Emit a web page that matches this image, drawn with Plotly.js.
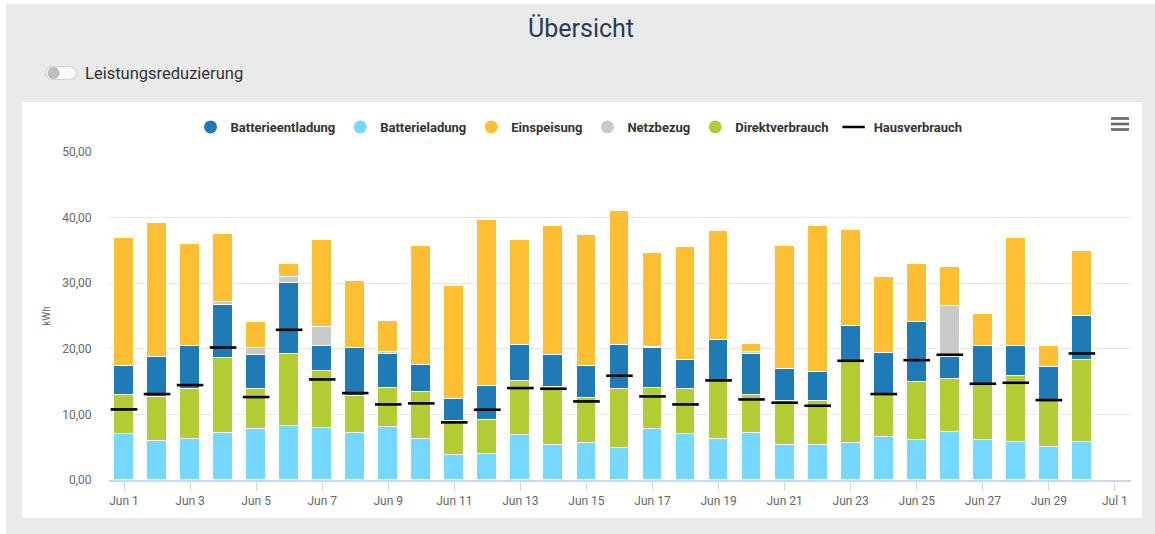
<!DOCTYPE html>
<html>
<head>
<meta charset="utf-8">
<script src="https://cdn.plot.ly/plotly-3.0.1.min.js"></script>
<style>
html,body{margin:0;padding:0;background:#fff;}
#chart{width:1155px;height:534px;}
</style>
</head>
<body>
<div id="chart"></div>
<script>
// ---- Data (kWh per day, June) ----
const days = ["2024-06-01","2024-06-02","2024-06-03","2024-06-04","2024-06-05","2024-06-06","2024-06-07","2024-06-08","2024-06-09","2024-06-10",
  "2024-06-11","2024-06-12","2024-06-13","2024-06-14","2024-06-15","2024-06-16","2024-06-17","2024-06-18","2024-06-19","2024-06-20",
  "2024-06-21","2024-06-22","2024-06-23","2024-06-24","2024-06-25","2024-06-26","2024-06-27","2024-06-28","2024-06-29","2024-06-30"];
const batterieladung = [6.95,5.89,6.19,7.11,7.77,8.22,7.92,7.11,8.02,6.19,3.81,3.96,6.80,5.38,5.58,4.87,7.77,6.95,6.29,7.11,5.28,5.28,5.58,6.50,6.04,7.26,6.04,5.74,5.08,5.84];
const direktverbrauch = [5.99,6.70,7.62,11.42,6.04,10.92,8.68,5.68,5.94,7.26,5.23,5.18,8.23,8.78,6.91,8.94,6.19,6.86,8.84,5.83,6.70,6.70,12.49,6.50,8.83,8.07,8.53,10.05,7.00,12.43];
const batterieentladung = [4.42,6.19,6.55,8.17,5.28,10.91,3.90,7.31,5.18,4.06,3.30,5.23,5.48,4.82,4.87,6.70,6.09,4.51,6.19,6.20,4.92,4.47,5.48,6.29,9.14,3.35,5.79,4.57,5.13,6.70];
const netzbezug = [0,0,0,0.45,1.06,0.97,2.75,0,0.30,0,0,0,0,0,0,0,0.30,0,0,0.30,0,0,0,0,0,7.77,0,0,0,0];
const einspeisung = [19.59,20.41,15.63,10.41,3.86,1.98,13.30,10.20,4.86,18.23,17.20,25.27,16.04,19.75,20.05,20.45,14.27,17.21,16.65,1.27,18.84,22.23,14.52,11.67,8.99,6.04,5.02,16.59,3.25,9.90];
const hausverbrauch = [10.76,13.10,14.47,20.20,12.64,22.89,15.33,13.25,11.52,11.68,8.78,10.71,14.01,13.91,11.98,15.89,12.74,11.52,15.18,12.28,11.78,11.32,18.17,13.10,18.27,19.09,14.67,14.82,12.18,19.29];

const C_ENT = "#1f7bb6", C_LAD = "#74d8ff", C_EIN = "#ffbf32", C_NETZ = "#c8cbca", C_DIR = "#b4cc34";
const FONT = "Roboto, 'Liberation Sans', Arial, sans-serif";

// ---- Layout geometry (pixels) ----
const W = 1155, H = 534, L = 109, R = 24, T = 152, B = 54;
const PW = W - L - R, PH = H - T - B;
const px = x => (x - L) / PW;
const py = y => (H - B - y) / PH;

const barW = 0.6 * 86400000;
function bar(name, y, color) {
  return {type: "bar", name: name, x: days, y: y, width: barW, showlegend: false,
    marker: {color: color, line: {color: "#ffffff", width: 1}}, hoverinfo: "x+y+name"};
}
function legendDot(name, color) {
  return {type: "scatter", mode: "markers", name: name, x: [null], y: [null],
    marker: {symbol: "circle", size: 13, color: color}};
}

const traces = [
  bar("Batterieladung", batterieladung, C_LAD),
  bar("Direktverbrauch", direktverbrauch, C_DIR),
  bar("Batterieentladung", batterieentladung, C_ENT),
  bar("Netzbezug", netzbezug, C_NETZ),
  bar("Einspeisung", einspeisung, C_EIN),
  legendDot("Batterieentladung", C_ENT),
  legendDot("Batterieladung", C_LAD),
  legendDot("Einspeisung", C_EIN),
  legendDot("Netzbezug", C_NETZ),
  legendDot("Direktverbrauch", C_DIR),
  {type: "scatter", mode: "markers", name: "Hausverbrauch", x: days, y: hausverbrauch,
    marker: {symbol: "line-ew", size: 19, color: "#000", line: {color: "#000", width: 2.6}}}
];

const shapes = [
  {type: "rect", xref: "paper", yref: "paper", x0: px(6), x1: px(1160), y0: py(4), y1: py(540),
    fillcolor: "#e9ebea", line: {width: 0}, layer: "below"},
  {type: "rect", xref: "paper", yref: "paper", x0: px(22), x1: px(1142), y0: py(102), y1: py(518),
    fillcolor: "#ffffff", line: {width: 0}, layer: "below"},
  // toggle switch
  {type: "rect", xref: "paper", yref: "paper", x0: px(52), x1: px(70), y0: py(66), y1: py(80),
    fillcolor: "#d4d4d4", line: {width: 0}, layer: "above"},
  {type: "circle", xref: "paper", yref: "paper", x0: px(45), x1: px(59), y0: py(66), y1: py(80),
    fillcolor: "#d4d4d4", line: {width: 0}, layer: "above"},
  {type: "circle", xref: "paper", yref: "paper", x0: px(63), x1: px(77), y0: py(66), y1: py(80),
    fillcolor: "#d4d4d4", line: {width: 0}, layer: "above"},
  {type: "rect", xref: "paper", yref: "paper", x0: px(52), x1: px(70), y0: py(67.2), y1: py(78.8),
    fillcolor: "#fafafa", line: {width: 0}, layer: "above"},
  {type: "circle", xref: "paper", yref: "paper", x0: px(46.2), x1: px(57.8), y0: py(67.2), y1: py(78.8),
    fillcolor: "#fafafa", line: {width: 0}, layer: "above"},
  {type: "circle", xref: "paper", yref: "paper", x0: px(64.2), x1: px(75.8), y0: py(67.2), y1: py(78.8),
    fillcolor: "#fafafa", line: {width: 0}, layer: "above"},
  {type: "circle", xref: "paper", yref: "paper", x0: px(47.5), x1: px(59.5), y0: py(67), y1: py(79),
    fillcolor: "#bdbdbd", line: {width: 0}, layer: "above"}
];
[118.5, 124, 129.5].forEach(y => shapes.push({type: "line", xref: "paper", yref: "paper",
  x0: px(1111), x1: px(1129), y0: py(y), y1: py(y), line: {color: "#666666", width: 2.6}}));

const layout = {
  width: W, height: H,
  margin: {l: L, r: R, t: T, b: B, pad: 0},
  paper_bgcolor: "#ffffff",
  plot_bgcolor: "rgba(0,0,0,0)",
  barmode: "stack",
  bargap: 0,
  separators: ",.",
  font: {family: FONT, color: "#666666"},
  title: {text: "Übersicht", x: 581 / W, xref: "container", xanchor: "center",
    y: 1 - 28 / H, yref: "container", yanchor: "middle",
    font: {size: 25, color: "#2b3a58", family: FONT}},
  showlegend: true,
  legend: {orientation: "h", x: px(579), xanchor: "center", y: py(127), yanchor: "middle",
    font: {size: 13, color: "#333333", weight: "bold"}, itemwidth: 30, traceorder: "normal",
    bgcolor: "rgba(0,0,0,0)"},
  xaxis: {type: "date", range: ["2024-05-31 13:06", "2024-07-01 11:41"],
    tick0: "2024-06-01", dtick: 2 * 86400000, tickformat: "%b %-d",
    ticks: "outside", ticklen: 9, tickcolor: "#ccd6eb", tickwidth: 1,
    showline: true, linecolor: "#ccd6eb", linewidth: 1.5,
    showgrid: false, zeroline: false,
    tickfont: {size: 12, color: "#666666"}, fixedrange: true},
  yaxis: {range: [0, 50], tick0: 0, dtick: 10, tickformat: ".2f",
    gridcolor: "#e6e6e6", gridwidth: 1, zeroline: false, showline: false,
    ticks: "outside", ticklen: 14, tickcolor: "rgba(0,0,0,0)",
    tickfont: {size: 12, color: "#666666"},
    title: {text: "kWh", font: {size: 10, color: "#666666"}, standoff: 9}, fixedrange: true},
  shapes: shapes,
  annotations: [
    {text: "Leistungsreduzierung", xref: "paper", yref: "paper", x: px(83), y: py(73.5),
      xanchor: "left", yanchor: "middle", showarrow: false,
      font: {size: 16.5, color: "#333333", family: FONT}}
  ]
};

Plotly.newPlot("chart", traces, layout, {displayModeBar: false});
</script>
</body>
</html>
